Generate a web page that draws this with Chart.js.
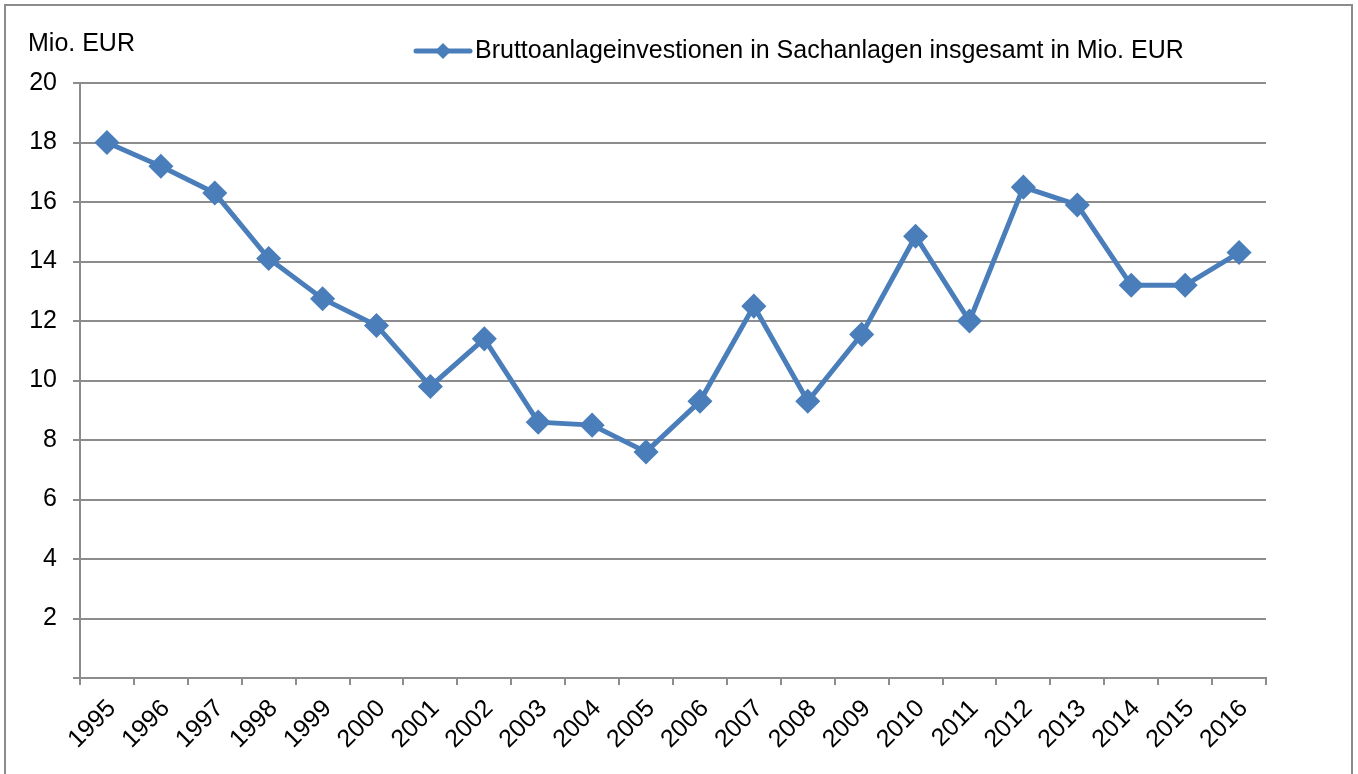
<!DOCTYPE html>
<html>
<head>
<meta charset="utf-8">
<script src="https://cdn.jsdelivr.net/npm/chart.js"></script>
<style>
  html, body { margin: 0; padding: 0; background: #fff; }
  #wrap { position: relative; width: 1358px; height: 774px; }
</style>
</head>
<body>
<div id="wrap"><canvas id="chart" width="1358" height="774"></canvas></div>
<script>
// -----------------------------
// Daten
// -----------------------------
const years = ["1995", "1996", "1997", "1998", "1999", "2000", "2001", "2002", "2003", "2004", "2005",
               "2006", "2007", "2008", "2009", "2010", "2011", "2012", "2013", "2014", "2015", "2016"];
const investitionen = [18.0, 17.2, 16.3, 14.1, 12.75, 11.85, 9.8, 11.4, 8.6, 8.5, 7.6,
                       9.3, 12.5, 9.3, 11.55, 14.85, 12.0, 16.5, 15.9, 13.2, 13.2, 14.3];
const yTicks = [0, 2, 4, 6, 8, 10, 12, 14, 16, 18, 20];
const seriesLabel = "Bruttoanlageinvestionen in Sachanlagen insgesamt in Mio. EUR";
const unitLabel = "Mio. EUR";

const BLUE = "#4a7ebb";
const GRID = "#8c8c8c";
const FONT = "Liberation Sans, Arial, sans-serif";

// -----------------------------
// Rahmen, Einheit und Legende
// -----------------------------
const decorations = {
    id: "decorations",
    beforeDraw(chart) {
        const ctx = chart.ctx;
        ctx.save();
        ctx.strokeStyle = "#8c8c8c";
        ctx.lineWidth = 2;
        ctx.strokeRect(5, 5, 1347, 800);
        ctx.restore();
    },
    afterDraw(chart) {
        const ctx = chart.ctx;
        ctx.save();
        ctx.fillStyle = "#000";
        ctx.font = "25px " + FONT;
        ctx.textBaseline = "middle";
        ctx.textAlign = "left";
        ctx.fillText(unitLabel, 28, 44);

        // Legende
        const y = 51;
        ctx.strokeStyle = BLUE;
        ctx.lineWidth = 5;
        ctx.lineCap = "round";
        ctx.beginPath();
        ctx.moveTo(416, y);
        ctx.lineTo(470, y);
        ctx.stroke();
        ctx.fillStyle = BLUE;
        ctx.beginPath();
        ctx.moveTo(443, y - 8);
        ctx.lineTo(451, y);
        ctx.lineTo(443, y + 8);
        ctx.lineTo(435, y);
        ctx.closePath();
        ctx.fill();
        ctx.fillStyle = "#000";
        ctx.fillText(seriesLabel, 475, y);
        ctx.restore();
    }
};

new Chart(document.getElementById("chart"), {
    type: "line",
    data: {
        labels: years,
        datasets: [{
            label: seriesLabel,
            data: investitionen,
            borderColor: BLUE,
            backgroundColor: BLUE,
            borderWidth: 5,
            pointStyle: "rectRot",
            pointRadius: 9,
            pointHoverRadius: 9,
            tension: 0
        }]
    },
    options: {
        responsive: false,
        animation: false,
        layout: { padding: { top: 83, right: 92, left: 0, bottom: 0 } },
        plugins: {
            legend: { display: false },
            tooltip: { enabled: false }
        },
        scales: {
            x: {
                offset: true,
                grid: {
                    offset: true,
                    drawOnChartArea: false,
                    drawTicks: true,
                    tickLength: 7,
                    color: GRID,
                    lineWidth: 2
                },
                border: { color: GRID, width: 2 },
                ticks: {
                    color: "#000",
                    font: { family: FONT, size: 25 },
                    maxRotation: 45,
                    minRotation: 45,
                    padding: 9,
                    labelOffset: 5,
                    autoSkip: false
                },
                afterFit(scale) { scale.height = 96; }
            },
            y: {
                min: 0,
                max: 20,
                afterBuildTicks(scale) { scale.ticks = yTicks.map(v => ({ value: v })); },
                grid: {
                    color: GRID,
                    lineWidth: 2,
                    tickLength: 7
                },
                border: { color: GRID, width: 2 },
                ticks: {
                    color: "#000",
                    font: { family: FONT, size: 25 },
                    padding: 16,
                    callback: v => v === 0 ? "" : String(v)
                },
                afterFit(scale) { scale.width = 80; }
            }
        }
    },
    plugins: [decorations]
});
</script>
</body>
</html>
